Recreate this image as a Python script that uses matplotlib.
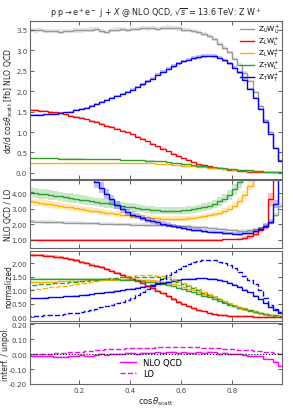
import numpy as np
import matplotlib.pyplot as plt
from matplotlib.ticker import FormatStrFormatter, MultipleLocator

# bins in cos(theta_scatt)
edges = np.linspace(0.0, 1.0, 51)

# --- dsigma/dcos [fb], NLO QCD
top_UU = [3.50, 3.49, 3.50, 3.48, 3.47, 3.48, 3.46, 3.47, 3.48, 3.49,
          3.49, 3.50, 3.51, 3.52, 3.47, 3.45, 3.50, 3.51, 3.52, 3.50,
          3.53, 3.52, 3.55, 3.54, 3.55, 3.53, 3.55, 3.56, 3.55, 3.54,
          3.51, 3.50, 3.48, 3.45, 3.40, 3.35, 3.27, 3.15, 3.05, 2.95,
          2.80, 2.65, 2.45, 2.25, 1.98, 1.63, 1.30, 1.00, 0.60, 0.32]
top_LL = [1.54, 1.53, 1.52, 1.51, 1.50, 1.48, 1.46, 1.43, 1.40, 1.37,
          1.34, 1.31, 1.27, 1.24, 1.20, 1.16, 1.12, 1.08, 1.03, 0.99,
          0.94, 0.89, 0.83, 0.77, 0.71, 0.65, 0.59, 0.53, 0.47, 0.41,
          0.36, 0.31, 0.26, 0.22, 0.19, 0.16, 0.13, 0.11, 0.09, 0.07,
          0.06, 0.05, 0.04, 0.03, 0.03, 0.02, 0.02, 0.01, 0.01, 0.01]
top_LT = [0.24, 0.24, 0.24, 0.24, 0.24, 0.24, 0.24, 0.24, 0.24, 0.24,
          0.24, 0.24, 0.24, 0.24, 0.24, 0.23, 0.23, 0.23, 0.23, 0.23,
          0.23, 0.23, 0.23, 0.23, 0.23, 0.22, 0.22, 0.21, 0.20, 0.19,
          0.18, 0.17, 0.16, 0.15, 0.14, 0.13, 0.12, 0.11, 0.10, 0.09,
          0.08, 0.07, 0.06, 0.05, 0.04, 0.04, 0.03, 0.02, 0.02, 0.01]
top_TL = [0.36, 0.36, 0.36, 0.36, 0.36, 0.36, 0.35, 0.35, 0.35, 0.35,
          0.35, 0.34, 0.34, 0.34, 0.34, 0.33, 0.33, 0.33, 0.32, 0.32,
          0.32, 0.31, 0.31, 0.30, 0.30, 0.29, 0.28, 0.27, 0.25, 0.24,
          0.22, 0.21, 0.19, 0.18, 0.17, 0.15, 0.14, 0.13, 0.11, 0.10,
          0.09, 0.08, 0.07, 0.06, 0.05, 0.04, 0.03, 0.03, 0.02, 0.02]
top_TT = [1.41, 1.41, 1.42, 1.43, 1.44, 1.45, 1.46, 1.48, 1.50, 1.53,
          1.57, 1.60, 1.64, 1.68, 1.73, 1.78, 1.83, 1.88, 1.93, 1.98,
          2.04, 2.10, 2.17, 2.24, 2.31, 2.40, 2.48, 2.55, 2.62, 2.68,
          2.73, 2.77, 2.81, 2.84, 2.86, 2.87, 2.86, 2.82, 2.76, 2.68,
          2.58, 2.46, 2.28, 2.06, 1.84, 1.56, 1.25, 0.95, 0.60, 0.30]

# --- NLO QCD / LO
rat_UU = [2.17, 2.16, 2.15, 2.14, 2.13, 2.12, 2.11, 2.10, 2.09, 2.08,
          2.07, 2.06, 2.05, 2.04, 2.03, 2.02, 2.01, 2.00, 1.99, 1.98,
          1.97, 1.96, 1.95, 1.94, 1.93, 1.92, 1.91, 1.90, 1.89, 1.88,
          1.87, 1.85, 1.83, 1.80, 1.78, 1.75, 1.72, 1.68, 1.65, 1.62,
          1.60, 1.58, 1.58, 1.60, 1.65, 1.72, 1.85, 2.10, 2.60, 3.20]
rat_LL = [1.00, 1.00, 1.00, 1.00, 1.00, 1.00, 1.00, 1.00, 1.00, 1.00,
          1.00, 1.00, 1.00, 1.00, 1.00, 1.00, 1.00, 1.00, 1.00, 1.00,
          1.00, 1.00, 1.00, 1.00, 1.00, 1.00, 1.00, 1.00, 1.00, 1.00,
          1.00, 1.00, 1.00, 1.00, 1.00, 1.00, 1.00, 1.00, 1.01, 1.01,
          1.03, 1.06, 1.12, 1.20, 1.37, 1.60, 1.82, 3.60, 7.00, 10.0]
rat_LT = [3.47, 3.42, 3.38, 3.33, 3.28, 3.23, 3.18, 3.13, 3.08, 3.03,
          2.98, 2.93, 2.88, 2.83, 2.78, 2.74, 2.69, 2.65, 2.61, 2.57,
          2.53, 2.50, 2.46, 2.43, 2.40, 2.38, 2.36, 2.35, 2.34, 2.35,
          2.36, 2.38, 2.41, 2.45, 2.50, 2.56, 2.63, 2.72, 2.84, 3.00,
          3.20, 3.50, 3.90, 4.50, 5.30, 6.20, 7.00, 8.00, 9.00, 10.0]
rat_TL = [4.05, 4.01, 3.97, 3.93, 3.88, 3.84, 3.79, 3.74, 3.69, 3.64,
          3.59, 3.54, 3.49, 3.44, 3.39, 3.34, 3.29, 3.24, 3.19, 3.14,
          3.09, 3.04, 3.00, 2.96, 2.92, 2.89, 2.87, 2.86, 2.86, 2.87,
          2.89, 2.92, 2.96, 3.02, 3.10, 3.20, 3.32, 3.47, 3.65, 3.90,
          4.25, 4.70, 5.30, 6.00, 7.00, 8.00, 9.00, 10.0, 12.0, 14.0]
rat_TT = [14.0, 13.0, 12.5, 12.0, 11.0, 10.5, 10.0, 9.30, 8.80, 8.20,
          7.60, 6.50, 5.60, 4.70, 4.35, 3.95, 3.60, 3.25, 2.95, 2.78,
          2.62, 2.50, 2.38, 2.27, 2.20, 2.12, 2.02, 1.95, 1.88, 1.80,
          1.74, 1.69, 1.63, 1.59, 1.55, 1.52, 1.49, 1.46, 1.43, 1.40,
          1.38, 1.37, 1.40, 1.45, 1.55, 1.70, 1.90, 2.15, 3.30, 5.50]

# --- normalized NLO shapes (solid)
nlo_LL = [2.32, 2.31, 2.30, 2.28, 2.26, 2.24, 2.21, 2.18, 2.14, 2.10,
          2.05, 2.00, 1.95, 1.90, 1.84, 1.78, 1.71, 1.64, 1.57, 1.50,
          1.42, 1.34, 1.26, 1.17, 1.08, 0.98, 0.88, 0.78, 0.68, 0.58,
          0.49, 0.41, 0.34, 0.27, 0.22, 0.17, 0.13, 0.10, 0.08, 0.06,
          0.05, 0.04, 0.03, 0.03, 0.02, 0.02, 0.02, 0.01, 0.01, 0.01]
nlo_LT = [1.30, 1.30, 1.31, 1.31, 1.32, 1.32, 1.33, 1.33, 1.34, 1.35,
          1.35, 1.36, 1.37, 1.37, 1.38, 1.38, 1.39, 1.39, 1.39, 1.40,
          1.40, 1.39, 1.39, 1.38, 1.36, 1.34, 1.31, 1.27, 1.23, 1.18,
          1.12, 1.06, 1.00, 0.94, 0.87, 0.80, 0.73, 0.66, 0.59, 0.52,
          0.45, 0.39, 0.33, 0.27, 0.22, 0.17, 0.13, 0.10, 0.07, 0.05]
nlo_TL = [1.43, 1.43, 1.43, 1.43, 1.43, 1.43, 1.43, 1.42, 1.42, 1.42,
          1.42, 1.42, 1.42, 1.41, 1.41, 1.41, 1.40, 1.40, 1.39, 1.38,
          1.37, 1.36, 1.34, 1.32, 1.30, 1.27, 1.23, 1.19, 1.14, 1.09,
          1.04, 0.98, 0.92, 0.86, 0.80, 0.73, 0.66, 0.60, 0.53, 0.47,
          0.41, 0.35, 0.30, 0.25, 0.20, 0.16, 0.12, 0.09, 0.07, 0.05]
nlo_TT = [0.70, 0.70, 0.71, 0.72, 0.73, 0.74, 0.75, 0.77, 0.78, 0.80,
          0.82, 0.84, 0.86, 0.88, 0.90, 0.93, 0.95, 0.98, 1.00, 1.03,
          1.06, 1.09, 1.12, 1.15, 1.19, 1.23, 1.27, 1.31, 1.35, 1.38,
          1.40, 1.42, 1.43, 1.44, 1.44, 1.43, 1.41, 1.38, 1.33, 1.27,
          1.20, 1.12, 1.02, 0.92, 0.80, 0.66, 0.52, 0.38, 0.25, 0.15]

# --- normalized LO shapes (dashed); LL coincides with NLO
lo_LT = [1.02, 1.04, 1.06, 1.08, 1.10, 1.12, 1.14, 1.17, 1.19, 1.22,
         1.25, 1.28, 1.31, 1.34, 1.37, 1.40, 1.43, 1.46, 1.49, 1.51,
         1.53, 1.55, 1.56, 1.56, 1.56, 1.54, 1.51, 1.47, 1.41, 1.35,
         1.28, 1.20, 1.12, 1.04, 0.95, 0.86, 0.77, 0.68, 0.59, 0.50,
         0.42, 0.35, 0.28, 0.22, 0.17, 0.13, 0.10, 0.07, 0.05, 0.04]
lo_TL = [1.20, 1.21, 1.22, 1.23, 1.24, 1.25, 1.27, 1.28, 1.30, 1.31,
         1.33, 1.34, 1.36, 1.38, 1.40, 1.42, 1.44, 1.46, 1.47, 1.48,
         1.49, 1.50, 1.50, 1.50, 1.49, 1.47, 1.44, 1.40, 1.35, 1.29,
         1.22, 1.15, 1.07, 0.99, 0.91, 0.83, 0.74, 0.66, 0.58, 0.50,
         0.42, 0.35, 0.29, 0.23, 0.18, 0.14, 0.11, 0.08, 0.06, 0.04]
lo_TT = [0.04, 0.05, 0.06, 0.07, 0.08, 0.09, 0.10, 0.12, 0.14, 0.17,
         0.20, 0.23, 0.27, 0.31, 0.36, 0.41, 0.46, 0.52, 0.58, 0.65,
         0.72, 0.82, 0.93, 1.04, 1.15, 1.27, 1.40, 1.55, 1.68, 1.80,
         1.90, 1.98, 2.04, 2.08, 2.10, 2.11, 2.10, 2.06, 2.00, 1.92,
         1.82, 1.68, 1.52, 1.38, 1.22, 1.02, 0.70, 0.45, 0.30, 0.20]

# --- interference / unpolarized
int_nlo = [-0.010, -0.010, -0.012, -0.015, -0.015, -0.020, -0.020, -0.018, -0.015, -0.012,
           -0.008, -0.010, -0.015, -0.005, 0.000, -0.005, 0.000, 0.005, 0.000, 0.010,
           0.008, 0.005, 0.008, 0.010, 0.010, 0.012, 0.010, 0.012, 0.015, 0.010,
           0.012, 0.010, 0.010, 0.012, 0.010, 0.018, 0.012, 0.005, 0.008, 0.005,
           0.002, 0.000, -0.005, -0.010, -0.012, -0.015, -0.030, -0.035, -0.050, -0.080]
int_lo = [-0.002, -0.001, 0.000, 0.002, 0.004, 0.006, 0.008, 0.010, 0.012, 0.015,
          0.018, 0.021, 0.024, 0.027, 0.030, 0.032, 0.034, 0.036, 0.038, 0.040,
          0.041, 0.042, 0.043, 0.044, 0.045, 0.046, 0.047, 0.047, 0.048, 0.048,
          0.048, 0.048, 0.047, 0.046, 0.045, 0.043, 0.042, 0.040, 0.038, 0.035,
          0.033, 0.031, 0.029, 0.026, 0.023, 0.020, 0.017, 0.013, 0.009, 0.005]

names = [r'Z$_{\rm U}$W$_{\rm U}^{+}$', r'Z$_{\rm L}$W$_{\rm L}^{+}$',
         r'Z$_{\rm L}$W$_{\rm T}^{+}$', r'Z$_{\rm T}$W$_{\rm L}^{+}$',
         r'Z$_{\rm T}$W$_{\rm T}^{+}$']
colors = ['#999999', '#ff0000', '#ffb000', '#2ca02c', '#0000ff']
tops = [top_UU, top_LL, top_LT, top_TL, top_TT]
rats = [rat_UU, rat_LL, rat_LT, rat_TL, rat_TT]
rel_err = [0.05, 0.02, 0.07, 0.08, 0.08]
norms = [nlo_LL, nlo_LT, nlo_TL, nlo_TT]
los = [nlo_LL, lo_LT, lo_TL, lo_TT]

fig = plt.figure(figsize=(2.93, 4.10), dpi=100)
L, W = 30 / 293, 252 / 293
ax1 = fig.add_axes([L, 1 - 180 / 410, W, 158 / 410])
ax2 = fig.add_axes([L, 1 - 249 / 410, W, 68 / 410], sharex=ax1)
ax3 = fig.add_axes([L, 1 - 322 / 410, W, 70 / 410], sharex=ax1)
ax4 = fig.add_axes([L, 1 - 385 / 410, W, 61 / 410], sharex=ax1)

# top panel: distributions
for v, c, n in zip(tops, colors, names):
    v = np.array(v)
    ax1.stairs(v * 1.015, edges, baseline=v * 0.985, fill=True, color=c, alpha=0.25, lw=0)
    ax1.stairs(v, edges, color=c, lw=1.0, label=n)

# ratio panel
for v, c, e in zip(rats, colors, rel_err):
    v = np.array(v)
    err = e * np.ones_like(v)
    if c == '#ff0000':
        err = np.where(v > 1.1, 0.12, 0.02)
    ax2.stairs(v * (1 + err), edges, baseline=v * (1 - err), fill=True, color=c, alpha=0.25, lw=0)
    ax2.stairs(v, edges, color=c, lw=1.0)

# normalized panel
for v, c in zip(norms, colors[1:]):
    v = np.array(v)
    ax3.stairs(v * 1.02, edges, baseline=v * 0.98, fill=True, color=c, alpha=0.25, lw=0)
    ax3.stairs(v, edges, color=c, lw=1.0)
for v, c in zip(los, colors[1:]):
    ax3.stairs(v, edges, color=c, lw=1.0, ls='--')

# interference panel
nlo_i = np.array(int_nlo)
ax4.stairs(nlo_i + 0.006, edges, baseline=nlo_i - 0.006, fill=True, color='#ff00ff', alpha=0.2, lw=0)
ax4.stairs(nlo_i, edges, color='#ff00ff', lw=1.0, label='NLO QCD')
ax4.stairs(int_lo, edges, color='#ff00ff', lw=1.0, ls='--', label='LO')
ax4.axhline(0, color='k', ls=':', lw=0.8)

ax1.set_xlim(0.01, 0.995)
ax1.set_ylim(-0.15, 3.72)
ax2.set_ylim(0.45, 4.86)
ax3.set_ylim(-0.14, 2.45)
ax4.set_ylim(-0.2, 0.21)

ax1.yaxis.set_major_locator(MultipleLocator(0.5))
ax1.yaxis.set_major_formatter(FormatStrFormatter('%.1f'))
ax2.yaxis.set_major_locator(MultipleLocator(1.0))
ax2.yaxis.set_major_formatter(FormatStrFormatter('%.2f'))
ax3.yaxis.set_major_locator(MultipleLocator(0.5))
ax3.yaxis.set_major_formatter(FormatStrFormatter('%.2f'))
ax4.yaxis.set_major_locator(MultipleLocator(0.1))
ax4.yaxis.set_major_formatter(FormatStrFormatter('%.2f'))
ax1.xaxis.set_major_locator(MultipleLocator(0.2))

for ax in [ax1, ax2, ax3, ax4]:
    ax.tick_params(direction='in', top=True, right=True, labelsize=5, length=3,
                   width=0.6, colors='#444444', pad=2)
    for s in ax.spines.values():
        s.set_color('#666666')
        s.set_linewidth(0.8)
for ax in [ax1, ax2, ax3]:
    ax.tick_params(labelbottom=False)

lab = dict(fontsize=5.5, color='#222222')
ax1.set_ylabel(r'd$\sigma$/d cos$\theta_{\rm scatt}$ [fb] NLO QCD', **lab)
ax2.set_ylabel('NLO QCD / LO', **lab)
ax3.set_ylabel('normalized', **lab)
ax4.set_ylabel('interf. / unpol.', **lab)
for ax, xc in [(ax1, -0.058), (ax2, -0.068), (ax3, -0.068), (ax4, -0.078)]:
    ax.yaxis.set_label_coords(xc, 0.5)
ax4.set_xlabel(r'cos$\theta_{\rm scatt}$', fontsize=6, color='#222222', labelpad=1)

ax1.set_title(r'p p$\rightarrow$e$^+$e$^-$ j + $X$ @ NLO QCD, $\sqrt{s}$ = 13.6 TeV: Z W$^+$',
              fontsize=5.8, color='#222222', pad=4)
ax1.legend(loc='upper right', frameon=False, fontsize=5.2, handlelength=1.9,
           labelspacing=-0.05, borderaxespad=0.0, borderpad=0.3, handletextpad=0.6)
ax4.legend(loc='lower center', frameon=False, fontsize=6, handlelength=2.0,
           labelspacing=0.3, bbox_to_anchor=(0.48, -0.03))

fig.savefig('out.png', dpi=100)
